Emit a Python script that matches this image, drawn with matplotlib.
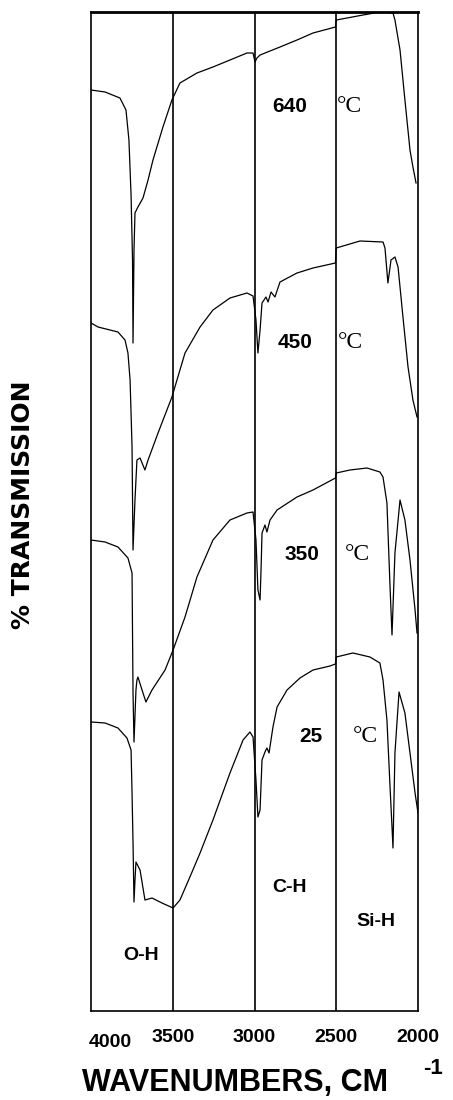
import matplotlib
matplotlib.use('Agg')
import matplotlib.pyplot as plt
import matplotlib.transforms as mtransforms

plt.rcParams['font.family'] = ['Liberation Sans', 'DejaVu Sans']

# wavenumber (cm-1) and stacked transmission traces (arbitrary offset units)
wn_640 = [4000, 3914, 3823, 3786, 3768, 3755, 3746, 3743, 3737, 3731, 3713, 3682, 3651, 3621,
          3560, 3505, 3456, 3352, 3254, 3150, 3046, 3009, 2997, 2985, 2966, 2844, 2740, 2642,
          2505, 2500, 2434, 2336, 2233, 2153, 2141, 2110, 2080, 2049, 2031, 2012]
tr_640 = [92.1, 91.9, 91.3, 90.1, 87.1, 81.6, 75.1, 66.8, 76.1, 79.8, 80.4, 81.3, 83.1, 85.1,
          88.4, 91.1, 92.8, 93.8, 94.4, 95.1, 95.8, 95.8, 94.9, 95.3, 95.6, 96.4, 97.1, 97.8,
          98.4, 99.1, 99.3, 99.6, 99.9, 99.8, 99.1, 96.1, 91.1, 86.1, 84.4, 82.8]

wn_450 = [4000, 3957, 3835, 3792, 3774, 3761, 3749, 3743, 3731, 3719, 3700, 3670, 3651, 3590,
          3505, 3425, 3333, 3254, 3150, 3046, 3009, 2991, 2979, 2966, 2954, 2930, 2917, 2899,
          2875, 2844, 2740, 2642, 2505, 2500, 2355, 2214, 2202, 2184, 2165, 2141, 2122, 2092,
          2061, 2031, 2006]
tr_450 = [68.8, 68.4, 67.9, 67.1, 65.8, 63.1, 56.4, 46.1, 51.1, 55.1, 55.3, 54.1, 55.1, 57.8,
          61.4, 65.8, 68.4, 70.1, 71.3, 71.8, 71.5, 69.1, 65.8, 68.1, 70.8, 71.4, 70.9, 71.9,
          71.4, 72.9, 73.8, 74.3, 74.8, 76.3, 77.0, 76.9, 76.3, 72.8, 75.1, 75.4, 74.4, 69.4,
          64.4, 61.1, 59.4]

wn_350 = [4000, 3914, 3835, 3774, 3749, 3743, 3737, 3725, 3719, 3713, 3682, 3664, 3627, 3547,
          3498, 3425, 3352, 3254, 3150, 3046, 3009, 2991, 2979, 2966, 2960, 2954, 2936, 2924,
          2905, 2862, 2740, 2642, 2505, 2500, 2416, 2312, 2233, 2214, 2190, 2171, 2159, 2141,
          2110, 2080, 2049, 2018, 2006]
tr_350 = [47.1, 46.9, 46.4, 45.3, 43.8, 31.8, 26.9, 32.1, 33.1, 33.4, 31.8, 30.9, 32.1, 34.1,
          36.1, 39.4, 43.4, 47.1, 49.1, 49.8, 49.9, 47.1, 42.1, 41.1, 44.1, 47.8, 48.6, 47.9,
          49.1, 50.1, 51.4, 52.1, 53.3, 53.8, 54.1, 54.3, 53.9, 53.4, 50.8, 42.4, 37.6, 45.8,
          51.1, 49.1, 45.1, 40.1, 37.8]

wn_25 = [4000, 3914, 3835, 3780, 3755, 3749, 3743, 3737, 3731, 3725, 3700, 3670, 3627, 3566,
         3498, 3456, 3395, 3333, 3254, 3150, 3070, 3028, 3009, 2991, 2979, 2966, 2954, 2936,
         2924, 2911, 2887, 2862, 2801, 2722, 2642, 2538, 2505, 2500, 2398, 2294, 2233, 2214,
         2190, 2171, 2159, 2153, 2141, 2116, 2080, 2049, 2018, 2000]
tr_25 = [28.9, 28.8, 28.3, 27.3, 26.1, 21.8, 16.8, 10.9, 13.1, 14.9, 14.1, 11.1, 11.3, 10.8,
         10.3, 11.1, 13.4, 15.8, 19.1, 23.8, 27.1, 27.9, 27.4, 23.1, 19.4, 20.1, 25.1, 25.9,
         26.3, 25.8, 28.4, 30.4, 32.1, 33.3, 34.1, 34.5, 34.7, 35.4, 35.8, 35.4, 34.8, 33.1,
         29.1, 22.4, 18.4, 16.3, 25.8, 31.9, 29.8, 25.8, 21.8, 19.8]

xticks = [4000, 3500, 3000, 2500, 2000]
xtick_labels = ['4000', '3500', '3000', '2500', '2000']
temps = ['640', '450', '350', '25']
bands = ['O-H', 'C-H', 'Si-H']

fig = plt.figure(figsize=(4.53, 11.0), dpi=100)
ax = fig.add_axes([91 / 453, 89 / 1100, 327 / 453, 999 / 1100])

for wn, tr in [(wn_640, tr_640), (wn_450, tr_450), (wn_350, tr_350), (wn_25, tr_25)]:
    ax.plot(wn, tr, color='black', lw=0.9)

for x in xticks[1:-1]:
    ax.axvline(x, color='black', lw=1.2)

ax.set_xlim(4000, 2000)
ax.set_ylim(0, 99.9)
ax.set_yticks([])
ax.set_xticks(xticks)
ax.set_xticklabels(xtick_labels, fontsize=14, fontweight='bold')
ax.tick_params(axis='x', length=0, pad=13)
for s in ax.spines.values():
    s.set_linewidth(1.2)
ax.spines['top'].set_linewidth(2)

# the 4000 label sits a bit right of the axis edge
lab0 = ax.get_xticklabels()[0]
lab0.set_transform(lab0.get_transform() +
                   mtransforms.ScaledTranslation(19 / 100, -5 / 100, fig.dpi_scale_trans))

# temperature labels
temp_pos = [(2783, 90.4, 2422), (2752, 66.8, 2416), (2710, 45.6, 2373), (2654, 27.4, 2324)]
for t, (xn, y, xc) in zip(temps, temp_pos):
    ax.text(xn, y, t, fontsize=15, fontweight='bold', ha='center', va='center')
    ax.text(xc, y, '°C', fontsize=17, family='Liberation Serif',
            ha='center', va='center')

band_pos = [(3694, 5.6), (2783, 12.4), (2257, 8.9)]
for b, (xb, yb) in zip(bands, band_pos):
    ax.text(xb, yb, b, fontsize=14, fontweight='bold', ha='center', va='center')

fig.text(235 / 453, 1 - 1083 / 1100, 'WAVENUMBERS, CM', fontsize=22, fontweight='bold',
         ha='center', va='center')
fig.text(433 / 453, 1 - 1068 / 1100, '-1', fontsize=16, fontweight='bold',
         ha='center', va='center')
fig.text(23 / 453, 1 - 505 / 1100, '% TRANSMISSION', fontsize=18, fontweight='bold',
         family='DejaVu Sans', rotation=90, ha='center', va='center')

fig.savefig('out.png', dpi=100)
